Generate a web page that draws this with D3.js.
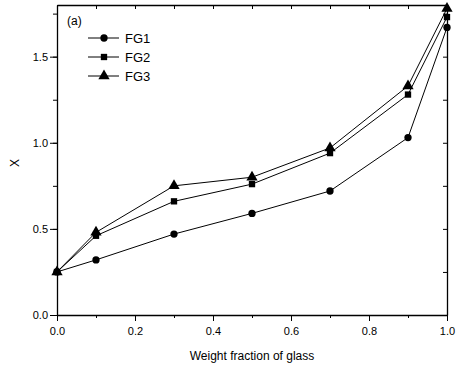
<!DOCTYPE html>
<html>
<head>
<meta charset="utf-8">
<script src="https://cdn.jsdelivr.net/npm/d3@7"></script>
<style>
body { margin: 0; background: #fff; }
text { font-family: "Liberation Sans", Arial, sans-serif; }
</style>
</head>
<body>
<svg width="456" height="371"></svg>
<script>
var weightFraction = [0, 0.1, 0.3, 0.5, 0.7, 0.9, 1.0];
var fg1 = [0.25, 0.32, 0.47, 0.59, 0.72, 1.03, 1.67];
var fg2 = [0.25, 0.46, 0.66, 0.76, 0.94, 1.28, 1.73];
var fg3 = [0.25, 0.48, 0.75, 0.80, 0.97, 1.33, 1.78];
var seriesNames = ["FG1", "FG2", "FG3"];
var xTicks = [0, 0.2, 0.4, 0.6, 0.8, 1.0];
var yTicks = [0, 0.5, 1.0, 1.5];

var plotLeft = 57, plotRight = 447, plotTop = 5, plotBottom = 315;

var svg = d3.select("svg");

var xScale = d3.scaleLinear().domain([0, 1]).range([plotLeft, plotRight]);
var yScale = d3.scaleLinear().domain([0, 1.8]).range([plotBottom, plotTop]);

var minorX = d3.range(0, 1.001, 0.1);
var minorY = d3.range(0, 1.8, 0.25);

// bottom axis
svg.append("g")
    .attr("transform", "translate(0," + plotBottom + ")")
    .call(d3.axisBottom(xScale).tickValues(minorX).tickSize(3).tickFormat(""))
    .call(g => g.select(".domain").remove());
svg.append("g")
    .attr("transform", "translate(0," + plotBottom + ")")
    .call(d3.axisBottom(xScale).tickValues(xTicks).tickSize(6).tickPadding(6).tickSizeOuter(0).tickFormat(d3.format(".1f")))
    .call(g => g.selectAll("text").attr("font-size", 11).attr("fill", "#000"));

// left axis
svg.append("g")
    .attr("transform", "translate(" + plotLeft + ",0)")
    .call(d3.axisLeft(yScale).tickValues(minorY).tickSize(4).tickFormat(""))
    .call(g => g.select(".domain").remove());
svg.append("g")
    .attr("transform", "translate(" + plotLeft + ",0)")
    .call(d3.axisLeft(yScale).tickValues(yTicks).tickSize(7).tickPadding(2).tickSizeOuter(0).tickFormat(d3.format(".1f")))
    .call(g => g.selectAll("text").attr("font-size", 11).attr("fill", "#000"));

// top and right axes, ticks inward
svg.append("g")
    .attr("transform", "translate(0," + plotTop + ")")
    .call(d3.axisBottom(xScale).tickValues(minorX).tickSize(4).tickFormat("").tickSizeOuter(0));
svg.append("g")
    .attr("transform", "translate(" + plotRight + ",0)")
    .call(d3.axisLeft(yScale).tickValues(minorY).tickSize(4).tickFormat("").tickSizeOuter(0));

svg.selectAll(".domain").attr("stroke-width", 1.3);

// axis titles
svg.append("text")
    .attr("x", (plotLeft + plotRight) / 2)
    .attr("y", 360)
    .attr("text-anchor", "middle")
    .attr("font-size", 12)
    .text("Weight fraction of glass");
svg.append("text")
    .attr("transform", "translate(19,163) rotate(-90)")
    .attr("text-anchor", "middle")
    .attr("font-size", 12)
    .text("X");

svg.append("text")
    .attr("x", 67)
    .attr("y", 25)
    .attr("font-size", 12)
    .text("(a)");

var series = [fg1, fg2, fg3];
var symbols = [d3.symbolCircle, d3.symbolSquare, d3.symbolTriangle];
var symSizes = [42, 40, 55];

var line = d3.line()
    .x((d, i) => xScale(weightFraction[i]))
    .y(d => yScale(d));

series.forEach(function(vals, s) {
  svg.append("path")
      .attr("d", line(vals))
      .attr("fill", "none")
      .attr("stroke", "#000")
      .attr("stroke-width", 1);
  svg.selectAll(".pt" + s)
    .data(vals)
    .enter()
    .append("path")
      .attr("transform", (d, i) => "translate(" + xScale(weightFraction[i]) + "," + yScale(d) + ")")
      .attr("d", d3.symbol().type(symbols[s]).size(symSizes[s]))
      .attr("fill", "#000");
});

// legend
var legend = svg.append("g");
seriesNames.forEach(function(name, s) {
  var y = 38 + s * 19;
  legend.append("line")
      .attr("x1", 88).attr("x2", 119)
      .attr("y1", y).attr("y2", y)
      .attr("stroke", "#000");
  legend.append("path")
      .attr("transform", "translate(104," + y + ")")
      .attr("d", d3.symbol().type(symbols[s]).size(symSizes[s]))
      .attr("fill", "#000");
  legend.append("text")
      .attr("x", 125)
      .attr("y", y + 5)
      .attr("font-size", 13)
      .text(name);
});
</script>
</body>
</html>
